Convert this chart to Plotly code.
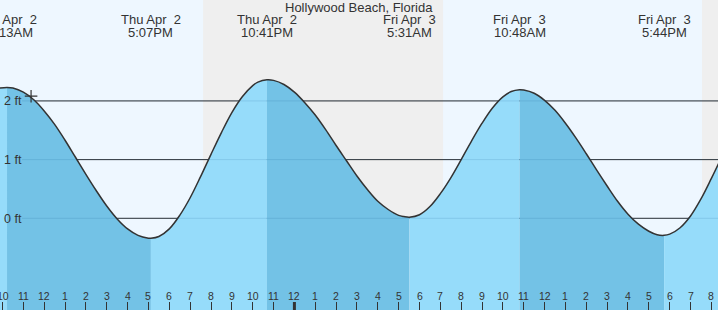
import plotly.graph_objects as go

# ---- data (hours from midnight Thu Apr 2, heights in ft) ----
times = [9.85, 10.217, 10.5, 11, 11.5, 12, 12.5, 13, 13.5, 14, 14.5, 15, 15.5, 16, 16.5, 17,
         17.117, 17.5, 18, 18.5, 19, 19.5, 20, 20.5, 21, 21.5, 22, 22.25, 22.683, 23, 23.5,
         24, 24.5, 25, 25.5, 26, 26.5, 27, 27.5, 28, 28.5, 29, 29.25, 29.517, 30, 30.5, 31,
         31.5, 32, 32.5, 33, 33.5, 34, 34.4, 34.8, 35, 35.5, 36, 36.5, 37, 37.5, 38, 38.5,
         39, 39.5, 40, 40.5, 41, 41.4, 41.733, 42, 42.5, 43, 43.5, 44, 44.5]
heights = [2.22, 2.23, 2.22, 2.15, 2.02, 1.83, 1.60, 1.33, 1.04, 0.75, 0.47, 0.21, -0.01,
           -0.18, -0.29, -0.338, -0.34, -0.31, -0.18, 0.05, 0.35, 0.71, 1.09, 1.46, 1.80,
           2.07, 2.26, 2.32, 2.36, 2.35, 2.28, 2.15, 1.97, 1.76, 1.51, 1.24, 0.98, 0.72, 0.49,
           0.29, 0.15, 0.05, 0.03, 0.02, 0.06, 0.20, 0.42, 0.69, 1.00, 1.32, 1.62, 1.88, 2.07,
           2.16, 2.19, 2.185, 2.13, 2.01, 1.84, 1.62, 1.37, 1.10, 0.82, 0.55, 0.29, 0.07,
           -0.10, -0.22, -0.28, -0.29, -0.27, -0.16, 0.04, 0.33, 0.68, 1.05]

event_times = [10.217, 17.117, 22.683, 29.517, 34.8, 41.733]
event_day = ["Thu Apr\u00a0 2", "Thu Apr\u00a0 2", "Thu Apr\u00a0 2",
             "Fri Apr\u00a0 3", "Fri Apr\u00a0 3", "Fri Apr\u00a0 3"]
event_clock = ["10:13AM", "5:07PM", "10:41PM", "5:31AM", "10:48AM", "5:44PM"]

night_start = [19.62, 43.55]
night_end = [31.13, 44.6]

hour_ticks = list(range(10, 45))
hour_labels = ["10", "11", "12", "1", "2", "3", "4", "5", "6", "7", "8", "9", "10", "11",
               "12", "1", "2", "3", "4", "5", "6", "7", "8", "9", "10", "11",
               "12", "1", "2", "3", "4", "5", "6", "7", "8"]
midnight_tick = 24

grid_levels = [0, 1, 2]
grid_labels = ["0 ft", "1 ft", "2 ft"]

now_time = [11.37]
now_height = [2.08]

title = "Hollywood Beach, Florida"

# ---- style ----
W, H = 718, 310
X_RANGE = [9.880, 44.317]
Y_RANGE = [-1.562, 3.719]
DAY = "#EEF7FF"
NIGHT = "#EFEFEF"
WATER_RISE = "#96DCFA"
WATER_FALL = "#73C2E6"
INK = "#333333"
FONT = "Liberation Sans, Arial, sans-serif"

fig = go.Figure()

# water fills, one per segment between extremes
bounds = [times[0]] + event_times + [times[-1]]
for i in range(len(bounds) - 1):
    t0, t1 = bounds[i], bounds[i + 1]
    xs = [t for t in times if t0 <= t <= t1]
    ys = [heights[times.index(t)] for t in xs]
    color = WATER_RISE if ys[-1] > ys[0] else WATER_FALL
    fig.add_trace(go.Scatter(x=[t0, t1], y=[Y_RANGE[0] - 1, Y_RANGE[0] - 1], mode="lines",
                             line=dict(width=0), hoverinfo="skip", showlegend=False))
    fig.add_trace(go.Scatter(x=xs, y=ys, mode="lines", fill="tonexty", fillcolor=color,
                             line=dict(width=0, shape="spline", smoothing=1),
                             hoverinfo="skip", showlegend=False))

# tide curve outline
fig.add_trace(go.Scatter(x=times, y=heights, mode="lines",
                         line=dict(color=INK, width=1.5, shape="spline", smoothing=1),
                         hoverinfo="skip", showlegend=False))

# current-time marker
fig.add_trace(go.Scatter(x=now_time, y=now_height, mode="markers",
                         marker=dict(symbol="cross-thin", size=9,
                                     line=dict(color=INK, width=1.2)),
                         hoverinfo="skip", showlegend=False))

shapes = []
for s, e in zip(night_start, night_end):
    shapes.append(dict(type="rect", xref="x", yref="paper", x0=s, x1=e, y0=0, y1=1,
                       fillcolor=NIGHT, line=dict(width=0), layer="below"))
for lv in grid_levels:
    shapes.append(dict(type="line", xref="paper", yref="y", x0=22 / W, x1=1, y0=lv, y1=lv,
                       line=dict(color=INK, width=1), layer="below"))
for lv in grid_levels:
    shapes.append(dict(type="line", xref="paper", yref="y", x0=22 / W, x1=1, y0=lv, y1=lv,
                       line=dict(color="rgba(0,70,130,0.13)", width=1), layer="above"))
shapes.append(dict(type="line", xref="x", yref="paper", x0=midnight_tick, x1=midnight_tick,
                   y0=0, y1=8 / H, line=dict(color=INK, width=3), layer="above"))

annotations = []
annotations.append(dict(text=title, xref="paper", yref="paper", x=0.5, y=1 - 7 / H,
                        xanchor="center", yanchor="middle", showarrow=False,
                        font=dict(family=FONT, size=13, color=INK)))
for t, d, c in zip(event_times, event_day, event_clock):
    annotations.append(dict(text=d, xref="x", yref="paper", x=t, y=1 - 19.7 / H,
                            xanchor="center", yanchor="middle", showarrow=False,
                            font=dict(family=FONT, size=13, color=INK)))
    annotations.append(dict(text=c, xref="x", yref="paper", x=t, y=1 - 32.5 / H,
                            xanchor="center", yanchor="middle", showarrow=False,
                            font=dict(family=FONT, size=13, color=INK)))
for t, lab in zip(hour_ticks, hour_labels):
    annotations.append(dict(text=lab, xref="x", yref="paper", x=t, y=1 - 296 / H,
                            xanchor="center", yanchor="middle", showarrow=False,
                            font=dict(family=FONT, size=10.5, color=INK)))
for lv, lab in zip(grid_levels, grid_labels):
    annotations.append(dict(text=lab, xref="paper", yref="y", x=2 / W, y=lv,
                            xanchor="left", yanchor="middle", showarrow=False, yshift=-0.5,
                            font=dict(family=FONT, size=12.5, color=INK)))

fig.update_layout(
    width=W, height=H, margin=dict(l=0, r=0, t=0, b=0),
    paper_bgcolor=DAY, plot_bgcolor=DAY,
    shapes=shapes, annotations=annotations, showlegend=False,
    xaxis=dict(range=X_RANGE, showgrid=False, zeroline=False, showline=False,
               tickvals=hour_ticks, ticks="inside", ticklen=8, tickwidth=1,
               tickcolor=INK, showticklabels=False, fixedrange=True),
    yaxis=dict(range=Y_RANGE, showgrid=False, zeroline=False, showline=False,
               showticklabels=False, ticks="", fixedrange=True),
)

fig.write_html("out.html", config={"displayModeBar": False})
